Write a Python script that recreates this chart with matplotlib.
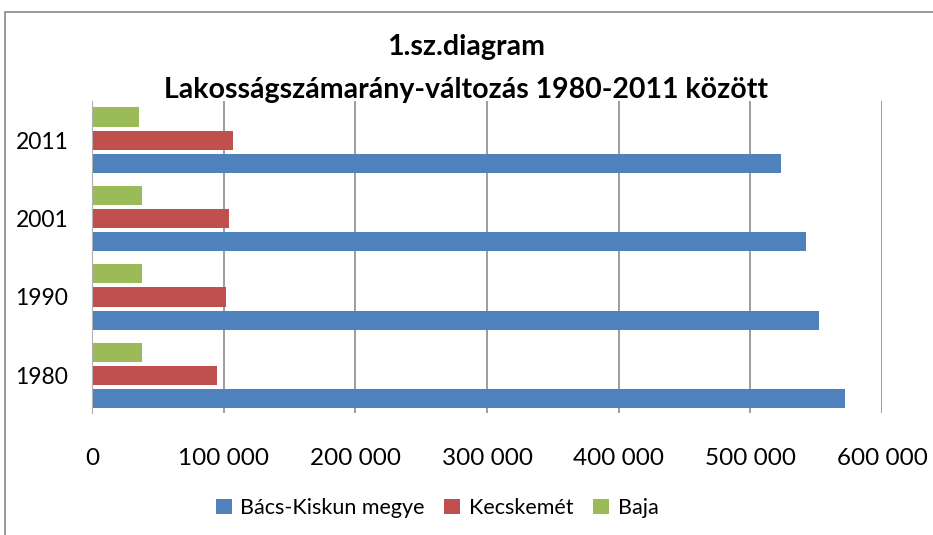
import matplotlib.pyplot as plt
from matplotlib.patches import Rectangle
import numpy as np

years = ["1980", "1990", "2001", "2011"]
bacs = [571800, 552000, 542100, 523200]
kecskemet = [94900, 101700, 104000, 107100]
baja = [38000, 38000, 38000, 35700]
xticks = [0, 100000, 200000, 300000, 400000, 500000, 600000]
xlabels = ["0", "100 000", "200 000", "300 000", "400 000", "500 000", "600 000"]

plt.rcParams['font.family'] = ['Lato', 'DejaVu Sans']

fig = plt.figure(figsize=(9.33, 5.35), dpi=100)
ax = fig.add_axes([92/933, 1 - 413/535, 790/933, 312/535])

y = np.arange(len(years))
off = 0.295
h = 0.245
ax.barh(y - off, bacs, height=h, color="#4F81BD", label="Bács-Kiskun megye")
ax.barh(y, kecskemet, height=h, color="#C0504D", label="Kecskemét")
ax.barh(y + off, baja, height=h, color="#9BBB59", label="Baja")

ax.set_xlim(0, 600000)
ax.set_ylim(-0.48, 3.5)
ax.set_xticks(xticks)
ax.set_xticklabels(xlabels, fontsize=17.5)
ax.set_yticks(y)
ax.set_yticklabels(years, fontsize=16.5)
ax.tick_params(axis='x', length=0, pad=25)
ax.tick_params(axis='y', length=0, pad=17)
ax.grid(axis='x', color="#8c8c8c", linewidth=1.2)
ax.set_axisbelow(True)
for s in ["top", "right", "bottom"]:
    ax.spines[s].set_visible(False)
ax.spines["left"].set_color("#b0b0b0")

fig.text(0.5, 1 - 47/535, "1.sz.diagram", ha="center", va="center",
         fontsize=20.5, fontweight="bold")
fig.text(0.5, 1 - 90/535, "Lakosságszámarány-változás 1980-2011 között",
         ha="center", va="center", fontsize=20.5, fontweight="bold")

ax.legend(loc="center", bbox_to_anchor=(437/933, 1 - 508/535), bbox_transform=fig.transFigure,
          ncol=3, frameon=False, fontsize=15.5, handlelength=0.75, handleheight=0.75,
          handletextpad=0.4, columnspacing=0.9)

fig.patches.append(Rectangle((5/933, -0.1), 1.1, 1 - 12/535 + 0.1, transform=fig.transFigure,
                             fill=False, edgecolor="#888888", linewidth=1.2))

fig.savefig("out.png", dpi=100)
